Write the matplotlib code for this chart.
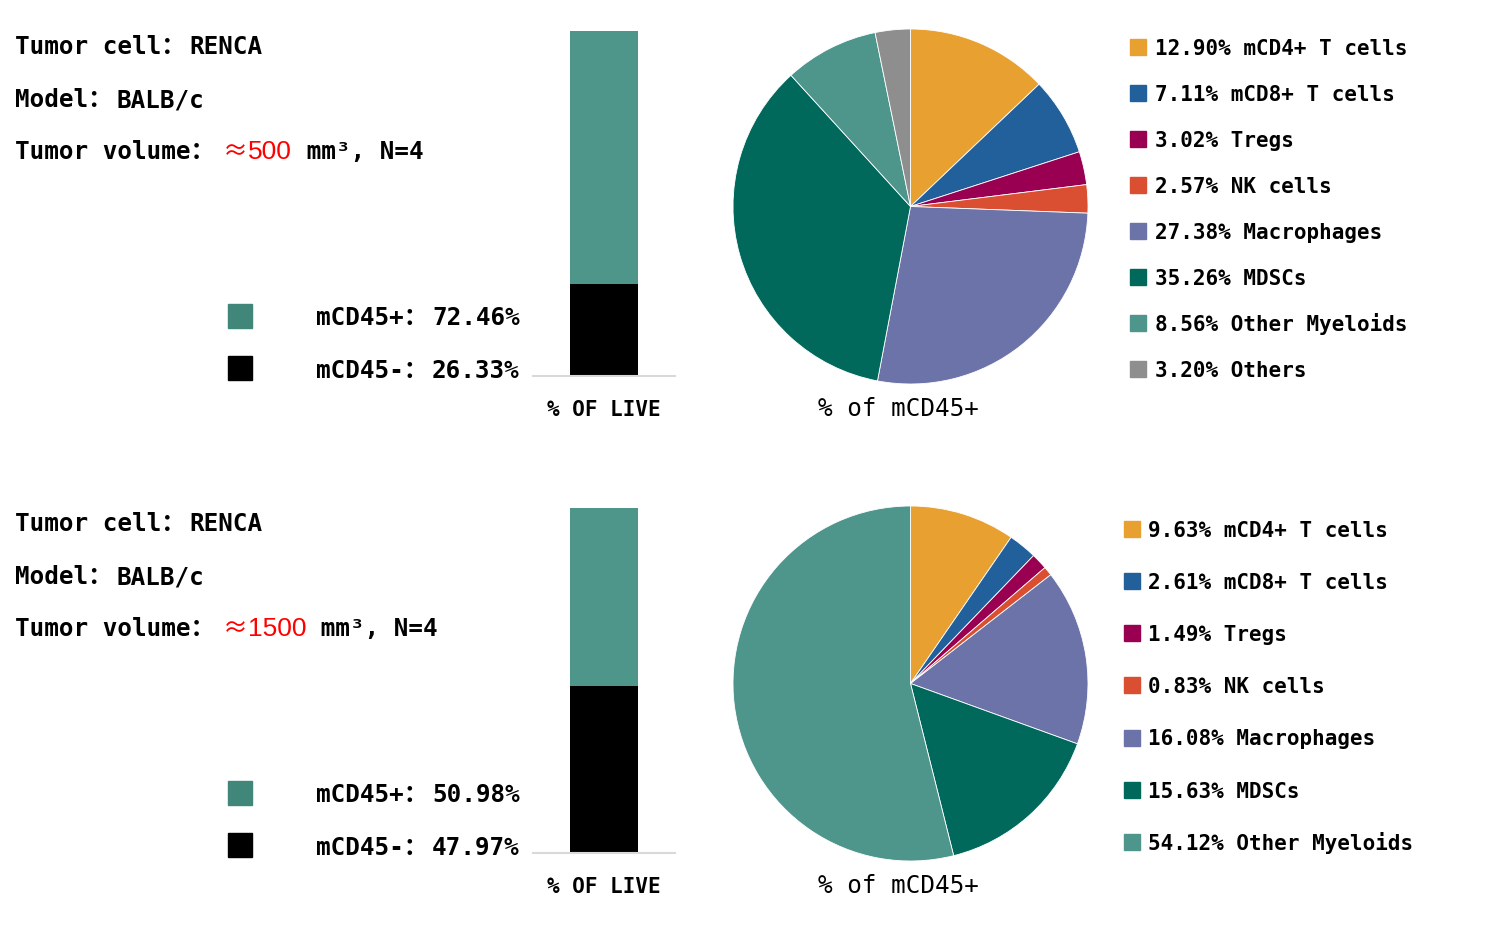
import matplotlib

matplotlib.use("Agg")
import matplotlib.pyplot as plt
from matplotlib.patches import Rectangle

W, H = 1500, 953
MONO = ["DejaVu Sans Mono", "Noto Sans CJK SC"]
CJK = ["Noto Sans CJK SC", "DejaVu Sans"]

# ---------------------------------------------------------------------------
# Data
# ---------------------------------------------------------------------------
tumor_cell = "RENCA"
model = "BALB/c"
volumes = ["500", "1500"]
n_mice = 4

live_labels = ["mCD45+", "mCD45-"]
live_top = [72.46, 26.33]
live_bottom = [50.98, 47.97]

cell_types = ["mCD4+ T cells", "mCD8+ T cells", "Tregs", "NK cells",
              "Macrophages", "MDSCs", "Other Myeloids", "Others"]
pct_top = [12.90, 7.11, 3.02, 2.57, 27.38, 35.26, 8.56, 3.20]
pct_bottom = [9.63, 2.61, 1.49, 0.83, 16.08, 15.63, 54.12]

cell_colors = ["#E8A131", "#22609B", "#990052", "#DA4F31",
               "#6B73A8", "#00695C", "#4E968B", "#8E8E8E"]
live_colors = ["#4E968A", "#000000"]
live_legend_colors = ["#40877A", "#000000"]


def px_rect(left, top, width, height):
    """Figure-fraction rect from pixel coords measured from the top-left."""
    return [left / W, 1 - (top + height) / H, width / W, height / H]


def run_text(ax, x, y, parts):
    """Draw text pieces one after another on a shared baseline."""
    r = ax.figure.canvas.get_renderer()
    for s, gap, kw in parts:
        x += gap
        t = ax.text(x, y, s, ha="left", va="baseline", **kw)
        x = t.get_window_extent(r).x1


def draw_panel(fig, over, dy, volume, live_vals, pcts, leg):
    mono_b = dict(family=MONO, fontsize=17.5, weight="bold", color="black")

    # header lines
    run_text(over, 15, 54.5 + dy, [
        ("Tumor cell：", 0, mono_b), (tumor_cell, 4, mono_b)])
    run_text(over, 15, 107.3 + dy, [
        ("Model：", 0, mono_b), (model, 4, mono_b)])
    run_text(over, 15, 159.3 + dy, [
        ("Tumor volume：", 0, mono_b),
        ("≈", 8, dict(family=CJK, fontsize=18, color="red")),
        (volume, 0, dict(family="Liberation Sans", fontsize=19, color="red")),
        (f" mm³, N={n_mice}", 0, mono_b),
    ])

    # left legend for the stacked bar
    for i, (lab, v) in enumerate(zip(live_labels, live_vals)):
        top = 305 + i * 52 + dy
        over.add_patch(Rectangle((228, top), 24, 24, color=live_legend_colors[i]))
        run_text(over, 316, 325 + i * 53 + dy, [
            (f"{lab}：", 0, mono_b), (f"{v:.2f}%", 4, mono_b)])

    # stacked bar, % of live
    bax = fig.add_axes(px_rect(533, 32 + dy, 142, 345))
    bax.bar(0, live_vals[1], width=1, color=live_colors[1])
    bax.bar(0, live_vals[0], width=1, bottom=live_vals[1], color=live_colors[0])
    bax.set_xlim(-1.05, 1.05)
    bax.set_ylim(0, sum(live_vals))
    for side in ["top", "left", "right"]:
        bax.spines[side].set_visible(False)
    bax.spines["bottom"].set_color("#D9D9D9")
    bax.spines["bottom"].set_linewidth(1.5)
    bax.set_xticks([])
    bax.set_yticks([])
    over.text(604, 416 + dy, "% OF LIVE", ha="center", va="baseline",
              family=MONO, fontsize=15, weight="bold")

    # pie, % of mCD45+
    r = 177.5
    pax = fig.add_axes(px_rect(910.5 - r, 207.5 + dy - r, 2 * r, 2 * r))
    pax.pie(pcts, colors=cell_colors[:len(pcts)], startangle=90,
            counterclock=False, radius=1,
            wedgeprops=dict(edgecolor="white", linewidth=0.6))
    pax.set_xlim(-1, 1)
    pax.set_ylim(-1, 1)
    pax.set_aspect("equal")
    over.text(898, 416 + dy, "% of mCD45+", ha="center", va="baseline",
              family=MONO, fontsize=17.5, color="black")

    # right legend
    sq_x, txt_x, base0, step = leg
    for i, (lab, p) in enumerate(zip(cell_types, pcts)):
        yb = base0 + dy + i * step
        over.add_patch(Rectangle((sq_x, yb - 15), 16, 16, color=cell_colors[i]))
        over.text(txt_x, yb, f"{p:.2f}% {lab}", va="baseline",
                  family=MONO, fontsize=15, weight="bold")


fig = plt.figure(figsize=(W / 100, H / 100), dpi=100)
over = fig.add_axes([0, 0, 1, 1])
over.set_xlim(0, W)
over.set_ylim(H, 0)
over.axis("off")

draw_panel(fig, over, 0, volumes[0], live_top, pct_top, (1130, 1155, 55, 46.0))
draw_panel(fig, over, 477, volumes[1], live_bottom, pct_bottom,
           (1124, 1148, 536.7 - 477, 52.2))

fig.savefig("out.png", dpi=100)
